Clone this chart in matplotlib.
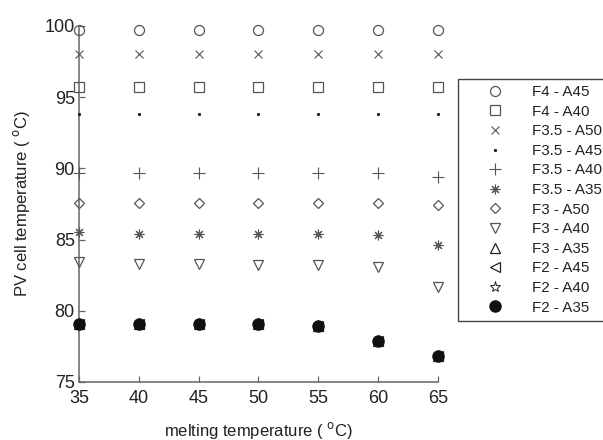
import matplotlib
matplotlib.use("Agg")
import matplotlib.pyplot as plt

plt.rcParams['font.family'] = ['Liberation Sans', 'DejaVu Sans']

melting_temp = [35, 40, 45, 50, 55, 60, 65]

f4_a45 = [99.7, 99.7, 99.7, 99.7, 99.7, 99.7, 99.7]
f4_a40 = [95.7, 95.7, 95.7, 95.7, 95.7, 95.7, 95.7]
f35_a50 = [98.0, 98.0, 98.0, 98.0, 98.0, 98.0, 98.0]
f35_a45 = [93.8, 93.8, 93.8, 93.8, 93.8, 93.8, 93.8]
f35_a40 = [89.7, 89.7, 89.7, 89.7, 89.7, 89.7, 89.4]
f35_a35 = [85.5, 85.4, 85.4, 85.4, 85.4, 85.3, 84.6]
f3_a50 = [87.6, 87.6, 87.6, 87.6, 87.6, 87.6, 87.4]
f3_a40 = [83.4, 83.3, 83.3, 83.2, 83.2, 83.1, 81.7]
f3_a35 = [79.1, 79.1, 79.1, 79.1, 78.9, 77.9, 76.8]
f2_a45 = [79.1, 79.1, 79.1, 79.1, 78.9, 77.9, 76.8]
f2_a40 = [79.1, 79.1, 79.1, 79.1, 78.9, 77.9, 76.8]
f2_a35 = [79.1, 79.1, 79.1, 79.1, 78.9, 77.9, 76.8]

labels = ["F4 - A45", "F4 - A40", "F3.5 - A50", "F3.5 - A45", "F3.5 - A40",
          "F3.5 - A35", "F3 - A50", "F3 - A40", "F3 - A35", "F2 - A45",
          "F2 - A40", "F2 - A35"]
series = [f4_a45, f4_a40, f35_a50, f35_a45, f35_a40, f35_a35, f3_a50, f3_a40,
          f3_a35, f2_a45, f2_a40, f2_a35]

gray = '#555555'
styles = [
    dict(marker='o', ms=7.2, mfc='none', mec=gray, mew=0.9),
    dict(marker='s', ms=6.6, mfc='none', mec=gray, mew=0.9),
    dict(marker='x', ms=5.5, mfc='none', mec=gray, mew=0.8),
    dict(marker='.', ms=3.5, mfc='#111111', mec='#111111', mew=0.5),
    dict(marker='+', ms=8, mfc='none', mec=gray, mew=0.8),
    dict(marker=(8, 2, 0), ms=7, mfc='none', mec=gray, mew=0.8),
    dict(marker='D', ms=5.5, mfc='none', mec=gray, mew=0.9),
    dict(marker='v', ms=7.5, mfc='none', mec=gray, mew=0.9),
    dict(marker='^', ms=7.5, mfc='none', mec='#222222', mew=0.9),
    dict(marker='<', ms=7.5, mfc='none', mec='#222222', mew=0.9),
    dict(marker='*', ms=8, mfc='none', mec='#222222', mew=0.7),
    dict(marker='o', ms=8.0, mfc='#111111', mec='#111111', mew=1.0),
]

fig = plt.figure(figsize=(6.03, 4.40), dpi=100)
ax = fig.add_axes([0.131, 0.132, 0.595, 0.809])

handles = []
for i, (vals, lab, st) in enumerate(zip(series, labels, styles)):
    z = 5 if i == 11 else 3
    h, = ax.plot(melting_temp, vals, linestyle='none', label=lab,
                 clip_on=False, zorder=z, **st)
    handles.append(h)

ax.set_xlim(35, 65)
ax.set_ylim(75, 100)
ax.set_xticks([35, 40, 45, 50, 55, 60, 65])
ax.set_yticks([75, 80, 85, 90, 95, 100])
ax.tick_params(direction='in', length=4, width=0.9, color='#666666',
               labelsize=13, labelcolor='#222222')
ax.tick_params(axis='x', pad=6)
ax.tick_params(axis='y', pad=3)
for s in ['top', 'right']:
    ax.spines[s].set_visible(False)
for s in ['left', 'bottom']:
    ax.spines[s].set_color('#666666')
    ax.spines[s].set_linewidth(1.1)

ax.set_xlabel('melting temperature ( $^{\\mathrm{o}}$C)', fontsize=12,
              color='#222222', labelpad=9)
ax.set_ylabel('PV cell temperature ( $^{\\mathrm{o}}$C)', fontsize=12,
              color='#222222', labelpad=9)

leg = fig.legend(handles=handles, loc='upper left',
                 bbox_to_anchor=(458 / 603, 1 - 79 / 440),
                 fontsize=10.9, numpoints=1, handlelength=4.1,
                 handletextpad=0.4, borderpad=0.4, labelspacing=0.37,
                 fancybox=False, framealpha=1, edgecolor='#444444',
                 borderaxespad=0)
leg.get_frame().set_linewidth(1.0)
for t in leg.get_texts():
    t.set_color('#222222')

fig.savefig('out.png', dpi=100)
